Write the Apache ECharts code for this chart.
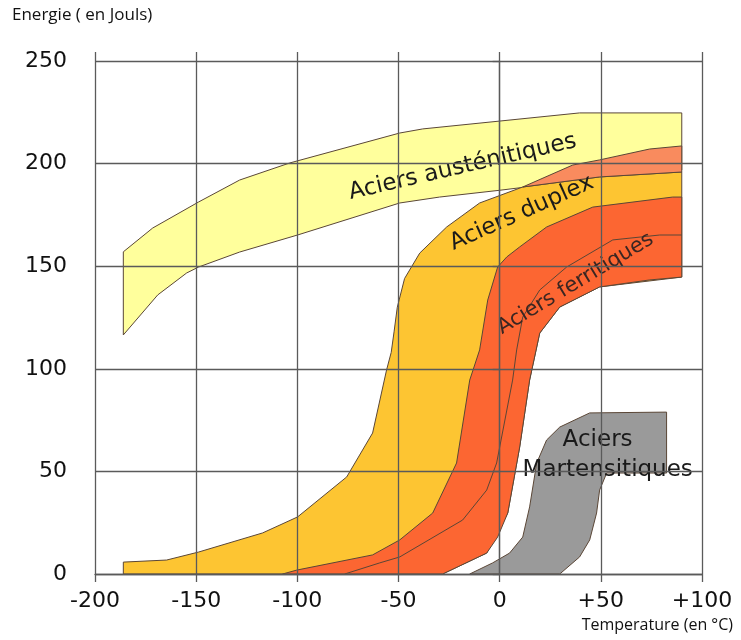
<!DOCTYPE html>
<html>
<head>
<meta charset="utf-8">
<script src="https://cdn.jsdelivr.net/npm/echarts@6/dist/echarts.min.js"></script>
<style>
  html, body { margin: 0; padding: 0; background: #fff; }
  #chart { width: 741px; height: 640px; }
</style>
</head>
<body>
<div id="chart"></div>
<script>
// axis ticks
const xTicks = [-200, -150, -100, -50, 0, 50, 100]
const yTicks = [0, 50, 100, 150, 200, 250]

// bandes : [température °C, énergie J]
const austeniticUpper = [[-186, 157], [-171.5, 168.6], [-148.8, 181.3], [-128.5, 192], [-103.8, 200.3], [-49.4, 214.9], [-38, 216.9], [39.5, 224.7], [90, 224.7]]
const austeniticLower = [[-186, 116.5], [-169, 136], [-154.7, 146.7], [-148.8, 149.6], [-128.5, 156.9], [-99.9, 165.2], [-49.4, 180.8], [-29.7, 183.7], [0, 187], [49.4, 193], [90, 196.9]]

const duplexUpper = [[-186, 0], [-186, 5.8], [-164.6, 6.8], [-148.8, 10.7], [-117.2, 20], [-99.9, 27.8], [-75.6, 47.3], [-62.8, 68.7], [-55.9, 99.4], [-53.6, 108], [-52.2, 118], [-50.6, 130], [-47, 144], [-39.5, 156.4], [-26.2, 169.1], [-9.9, 180.8], [11.4, 188.6], [49.4, 193.5], [90, 195.9]]
const duplexLower = [[-28.2, 0], [-6.4, 10.2], [4, 29.7], [9.9, 61.9], [14.8, 94.5], [19.8, 117.4], [29.7, 130.1], [49.4, 139.9], [90, 144.7]]

const salmonUpper = [[11.4, 188.6], [36.1, 199.3], [49.4, 201.8], [74.1, 207.1], [90, 208.6]]
const salmonLower = [[11.4, 188.6], [49.4, 193.5], [90, 195.9]]

const ferriticUpper = [[-107.3, 0], [-100.3, 1.9], [-62.8, 9.3], [-49.4, 16.6], [-33.1, 29.7], [-21.3, 54.1], [-14.8, 94.5], [-9.9, 109.2], [-5.9, 133.5], [-1, 149.6], [3.5, 154.5], [9.9, 159.4], [23.2, 169.1], [46, 178.8], [85.5, 183.7], [90, 183.7]]
const ferriticLower = [[-28.2, 0], [-6.4, 10.2], [-1, 18], [4, 29.7], [9.9, 61.9], [14.8, 94.5], [19.8, 117.4], [29.7, 130.1], [49.4, 139.9], [74.1, 143.3], [90, 144.7]]
const ferriticMid = [[-76.6, 0], [-59.3, 5.4], [-49.4, 8.3], [-18.3, 26.3], [-6.4, 40.9], [-1.5, 54.1], [6.4, 94.5], [8.4, 109.2], [11.4, 125.2], [19.8, 138.4], [33.1, 149.6], [55.9, 162.8], [79.1, 165.2], [90, 165.2]]

const martensiticUpper = [[-14.8, 0], [-3.5, 5.4], [4.9, 10.2], [11.4, 18], [14.8, 32.7], [18.3, 54.1], [23.2, 65.3], [29.7, 71.6], [44.5, 78.5], [82.5, 78.9], [82.5, 49.2]]
const martensiticLower = [[29.7, 0], [39.5, 8.3], [44.5, 16.6], [47.9, 29.7], [49.4, 40.9], [52.9, 49.2], [82.5, 49.2]]

const bandNames = ['Aciers austénitiques', 'Aciers duplex', 'Aciers ferritiques', 'Aciers Martensitiques']

// annotations (texte, ancre en coordonnées des données, angle)
const notes = [
    { text: 'Aciers austénitiques', at: [-18.3, 198.3], angle: 13, size: 23, color: '#1a1a1a' },
    { text: 'Aciers duplex', at: [10.9, 175.9], angle: 24, size: 23, color: '#1a1a1a' },
    { text: 'Aciers ferritiques', at: [37.5, 141.5], angle: 31, size: 21, color: '#3a2622' },
    { text: 'Aciers', at: [48.4, 65.3], angle: 0, size: 23, color: '#1a1a1a' },
    { text: 'Martensitiques', at: [53.4, 50.7], angle: 0, size: 23, color: '#1a1a1a' }
]

const outline = '#5a4636'

function band (name, upper, lower, fill, z) {
    const pts = upper.concat(lower.slice().reverse())
    return {
        type: 'custom',
        name: name,
        coordinateSystem: 'cartesian2d',
        silent: true,
        z: z,
        data: [pts[0]],
        renderItem: (params, api) => ({
            type: 'polygon',
            shape: { points: pts.map(p => api.coord(p)) },
            style: { fill: fill, stroke: outline, lineWidth: 1 }
        })
    }
}

const chart = echarts.init(document.getElementById('chart'))
const tickFont = { fontFamily: 'DejaVu Sans', fontSize: 22, color: '#111' }
const gridLine = { color: '#5a5a5a', width: 1.3 }

const option = {
    animation: false,
    grid: { left: 95, right: 39, top: 61, bottom: 66 },
    xAxis: [
        {
            type: 'value',
            min: xTicks[0],
            max: xTicks[xTicks.length - 1],
            interval: 50,
            z: 10,
            axisLine: { show: true, lineStyle: gridLine },
            axisTick: { show: true, length: 8, lineStyle: gridLine },
            splitLine: { show: true, lineStyle: gridLine },
            axisLabel: Object.assign({ margin: 16, formatter: v => v > 0 ? '+' + v : String(v) }, tickFont)
        },
        {
            type: 'value',
            position: 'top',
            min: xTicks[0],
            max: xTicks[xTicks.length - 1],
            interval: 50,
            z: 10,
            axisLine: { show: false },
            axisTick: { show: true, length: 9, lineStyle: gridLine },
            splitLine: { show: false },
            axisLabel: { show: false }
        }
    ],
    yAxis: {
        type: 'value',
        min: yTicks[0],
        max: yTicks[yTicks.length - 1],
        interval: 50,
        z: 10,
        axisLine: { show: true, lineStyle: gridLine },
        axisTick: { show: true, length: 7, lineStyle: gridLine },
        splitLine: { show: true, lineStyle: gridLine },
        axisLabel: Object.assign({ margin: 28 }, tickFont)
    },
    graphic: [
        { type: 'text', left: 12, top: 7, style: { text: 'Energie ( en Jouls)', font: '17px "Open Sans"', fill: '#111' } },
        { type: 'text', right: 8, top: 617, style: { text: 'Temperature (en °C)', font: '16px "Open Sans"', fill: '#111' } }
    ],
    series: [
        band(bandNames[0], austeniticUpper, austeniticLower, '#ffff9c', 1),
        band(bandNames[1], duplexUpper, duplexLower, '#fdc532', 2),
        band(bandNames[1], salmonUpper, salmonLower, '#f98b5e', 3),
        band(bandNames[2], ferriticUpper, ferriticLower, '#fc6632', 4),
        {
            type: 'line',
            name: bandNames[2],
            data: ferriticMid,
            z: 5,
            silent: true,
            symbol: 'none',
            lineStyle: { color: outline, width: 1 }
        },
        band(bandNames[3], martensiticUpper, martensiticLower, '#9a9a9a', 6),
        {
            type: 'custom',
            coordinateSystem: 'cartesian2d',
            silent: true,
            z: 7,
            data: notes.map(n => n.at),
            renderItem: (params, api) => {
                const n = notes[params.dataIndex]
                const p = api.coord(n.at)
                return {
                    type: 'text',
                    x: p[0],
                    y: p[1],
                    rotation: n.angle * Math.PI / 180,
                    style: {
                        text: n.text,
                        fill: n.color,
                        font: n.size + 'px "DejaVu Sans"',
                        align: 'center',
                        verticalAlign: 'middle'
                    }
                }
            }
        }
    ]
}
chart.setOption(option)
</script>
</body>
</html>
